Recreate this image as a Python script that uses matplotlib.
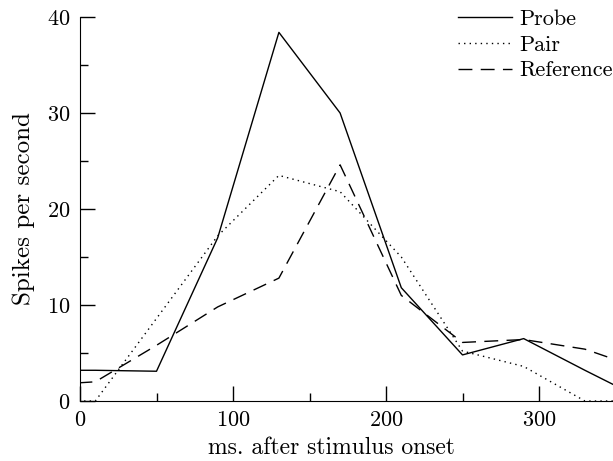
import matplotlib
matplotlib.use("Agg")
import matplotlib.pyplot as plt
from matplotlib.ticker import MultipleLocator

plt.rcParams['font.family'] = ['cmr10', 'DejaVu Serif']
plt.rcParams['axes.formatter.use_mathtext'] = True

# bin centres (ms after stimulus onset)
times = [-30, 10, 50, 90, 130, 170, 210, 250, 290, 330, 370]

# spikes per second
probe = [3.2, 3.2, 3.1, 17.0, 38.4, 30.0, 11.8, 4.8, 6.5, 3.2, 0.0]
pair = [0.0, 0.0, 8.6, 17.2, 23.5, 21.8, 15.0, 5.2, 3.6, 0.0, 0.0]
reference = [1.6, 2.0, 5.8, 9.8, 12.8, 24.6, 11.0, 6.1, 6.4, 5.4, 3.2]

fig = plt.figure(figsize=(6.13, 4.61), dpi=100)
ax = fig.add_axes([80 / 613, 60 / 461, 535.5 / 613, 384 / 461])

ax.plot(times, probe, color='black', linestyle='-', linewidth=1.0, label='Probe')
ax.plot(times, pair, color='black', linestyle=(0, (1, 3)), linewidth=1.0, label='Pair')
ax.plot(times, reference, color='black', linestyle=(0, (10, 6)), linewidth=1.0, label='Reference')

ax.set_xlim(0, 350)
ax.set_ylim(0, 40)

ax.spines['top'].set_visible(False)
ax.spines['right'].set_visible(False)

ax.xaxis.set_major_locator(MultipleLocator(100))
ax.xaxis.set_minor_locator(MultipleLocator(50))
ax.yaxis.set_major_locator(MultipleLocator(10))
ax.yaxis.set_minor_locator(MultipleLocator(5))
ax.tick_params(which='major', direction='in', length=11, width=1, labelsize=16, pad=7)
ax.tick_params(which='minor', direction='in', length=5.5, width=1)

ax.set_xlabel('ms. after stimulus onset', fontsize=17)
ax.set_ylabel('Spikes per second', fontsize=18)
ax.xaxis.set_label_coords(0.469, -0.093)
ax.yaxis.set_label_coords(-0.084, 0.5)

ax.legend(loc='upper right', bbox_to_anchor=(1.0, 0.98), bbox_transform=fig.transFigure,
          frameon=False, fontsize=16, handlelength=2.4, handletextpad=0.36,
          labelspacing=0.28, borderaxespad=0, borderpad=0)

fig.savefig('out.png', dpi=100)
